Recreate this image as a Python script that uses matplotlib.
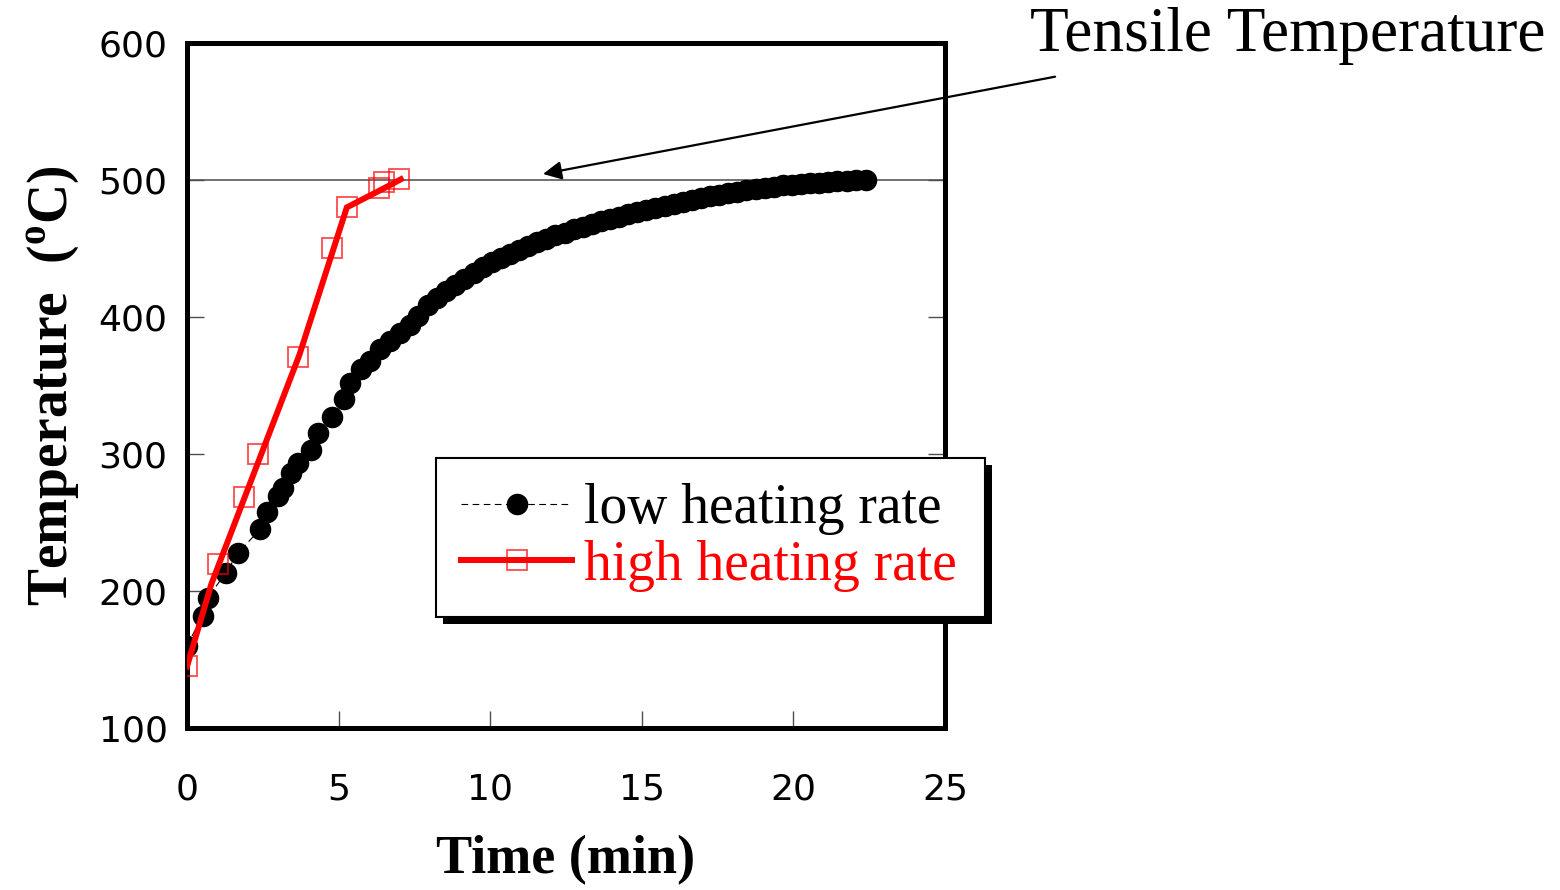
import matplotlib
matplotlib.use("Agg")
import matplotlib.pyplot as plt
from matplotlib.lines import Line2D
from matplotlib.patches import Rectangle
from matplotlib.transforms import IdentityTransform

# low heating rate (black dots)
low_time = [0.0, 0.51, 0.68, 1.27, 1.69, 2.41, 2.63, 3.01, 3.18, 3.42, 3.67,
            4.09, 4.31, 4.77, 5.19, 5.38, 5.74, 6.04, 6.37, 6.70, 7.03, 7.35,
            7.63, 7.95, 8.25, 8.55, 8.85, 9.15, 9.45, 9.75, 10.05, 10.35,
            10.65, 10.95, 11.25, 11.55, 11.85, 12.15, 12.45, 12.75, 13.05,
            13.35, 13.65, 13.95, 14.25, 14.55, 14.85, 15.15, 15.45, 15.75,
            16.05, 16.35, 16.65, 16.95, 17.25, 17.55, 17.85, 18.15, 18.45,
            18.75, 19.05, 19.35, 19.65, 19.95, 20.25, 20.55, 20.85, 21.15,
            21.45, 21.75, 22.05, 22.4]
low_temp = [160, 182, 195, 213, 228, 245, 258, 269, 275, 286, 293.5,
            303, 315.5, 327, 340, 352, 362, 368, 376.5, 382.5, 388.5, 394.5,
            400.5, 409, 414, 419, 423.5, 428, 432, 436.5, 440, 443,
            446, 449, 452, 454.5, 457, 459.5, 461.5, 464, 466,
            468, 470, 471.5, 473, 475, 476.5, 478, 479.5, 481,
            482.5, 484, 485.5, 486.5, 488, 489, 490.5, 491.5, 492.5,
            493.5, 494.5, 495, 496, 496.5, 497, 497.5, 498, 498.5,
            499, 499.5, 499.8, 500]

# high heating rate (red squares and red line)
high_time = [0.0, 1.03, 1.88, 2.35, 3.67, 4.77, 5.27, 6.33, 6.51, 7.0]
high_temp = [145.5, 220, 268.5, 300, 370.5, 450.5, 480.5, 494.5, 498.5, 500.5]
high_line_time = [0.0, 0.8, 3.7, 5.27, 6.5, 7.05]
high_line_temp = [145, 205, 372, 480, 494, 500.5]

tensile_temp = 500

serif = "Liberation Serif"
plt.rcParams["mathtext.fontset"] = "custom"
plt.rcParams["mathtext.rm"] = "Liberation Serif:bold"

fig = plt.figure(figsize=(15.6, 8.9), dpi=100)
ax = fig.add_axes([0.1199, 0.182, 0.4859, 0.7697])

ax.axhline(tensile_temp, color="0.35", lw=1.2, zorder=1)

ax.plot(low_time, low_temp, color="black", lw=0.8, ls=(0, (6, 4)),
        marker="o", ms=14.5, mfc="black", mec="black", zorder=3)
ax.plot(high_line_time, high_line_temp, color="red", lw=4.3,
        solid_joinstyle="miter", zorder=4)
ax.plot(high_time, high_temp, ls="none", marker="s", ms=14, mfc="none",
        mec=(1, 0, 0, 0.7), mew=1.3, zorder=4.5)

ax.set_xlim(0, 25)
ax.set_ylim(100, 600)
ax.set_xticks([0, 5, 10, 15, 20, 25])
ax.set_yticks([100, 200, 300, 400, 500, 600])

for s in ax.spines.values():
    s.set_linewidth(3.6)
ax.tick_params(axis="both", direction="in", length=12, width=1,
               color="0.3", labelsize=26)
ax.tick_params(axis="y", right=True, pad=14)
ax.tick_params(axis="x", pad=32)
for lab in ax.get_xticklabels() + ax.get_yticklabels():
    lab.set_family("DejaVu Sans")

ax.set_xlabel("Time (min)", family=serif, weight="bold", fontsize=39,
              labelpad=21)
ax.set_ylabel("Temperature  ($^{\\rm o}$C)", family=serif, weight="bold",
              fontsize=40, labelpad=12)

low_h = Line2D([], [], color="black", lw=0.8, ls=(0, (6, 4)), marker="o",
               ms=14.5, mfc="black", mec="black")
high_h = Line2D([], [], color="red", lw=4.3, marker="s", ms=14, mfc="none",
                mec=(1, 0, 0, 0.7), mew=1.3)
leg = ax.legend([low_h, high_h], ["low heating rate", "high heating rate"],
                loc="upper left", bbox_to_anchor=(0.3285, 0.394, 0.7243, 0.0),
                mode="expand", prop={"family": serif, "size": 40},
                labelcolor=["black", "red"], handlelength=2.0,
                handletextpad=0.22, labelspacing=0.08, borderpad=0.45,
                borderaxespad=0, fancybox=False, framealpha=1,
                edgecolor="black")
leg.get_frame().set_linewidth(1.5)
leg.set_zorder(6)

fig.canvas.draw()
bb = leg.get_window_extent()
shadow = Rectangle((bb.x0 + 7, bb.y0 - 7), bb.width, bb.height,
                   transform=IdentityTransform(), facecolor="black",
                   edgecolor="none", clip_on=False, zorder=5.9)
ax.add_artist(shadow)

ax.annotate("", xy=(11.74, 504.4), xytext=(28.63, 575.4),
            xycoords="data", textcoords="data", annotation_clip=False,
            arrowprops=dict(arrowstyle="-|>", lw=1.6, color="black",
                            mutation_scale=28, shrinkA=0, shrinkB=0))
fig.text(1030 / 1560, 1 - 36 / 890, "Tensile Temperature", family=serif,
         fontsize=45.5, ha="left", va="center")

fig.savefig("out.png", dpi=100)
